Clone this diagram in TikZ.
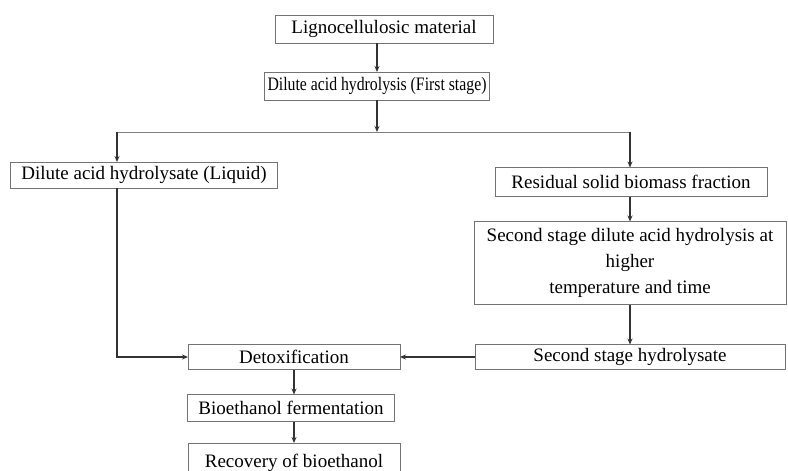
\documentclass[tikz,border=0pt]{standalone}
\usepackage{graphicx}
\usepackage{fontspec}
\setmainfont{Liberation Serif}
\usetikzlibrary{arrows.meta}

\begin{document}
\begin{tikzpicture}[
        x = 1pt, y = -1pt,
        outer sep = 0mm, inner sep = 0mm,
        box/.style = {
          rectangle, draw = black!55, line width = .8pt, align = center,
          font = \fontsize{19}{26}\selectfont,
        },
        flow/.style = {
          draw = black!80, line width = 1.3pt,
          -{Stealth[length = 6pt, width = 5pt]},
        },
        bar/.style = {draw = black!50, line width = .9pt}
      ]

      \clip (0,0) rectangle (788,471);

      \node[box, minimum width = 218, minimum height = 28] (lig) at (384,29) {Lignocellulosic material};
      \node[box, minimum width = 225, minimum height = 28]
        (dah) at (377,86) {\scalebox{0.83}[1]{Dilute acid hydrolysis (First stage)}};
      \node[box, minimum width = 267, minimum height = 26] (liq) at (144,175) {Dilute acid hydrolysate (Liquid)};
      \node[box, minimum width = 272, minimum height = 29] (res) at (631,182) {Residual solid biomass fraction};
      \node[box, minimum width = 312, minimum height = 83] (sec) at (630,263)
        {Second stage dilute acid hydrolysis at\\higher\\temperature and time};
      \node[box, minimum width = 310, minimum height = 25] (hyd) at (630,357) {Second stage hydrolysate};
      \node[box, minimum width = 212, minimum height = 25] (det) at (294,357) {Detoxification};
      \node[box, minimum width = 207, minimum height = 27] (bio) at (291,408) {Bioethanol fermentation};
      \node[box, minimum width = 212, minimum height = 40] (rec) at (294,463) {Recovery of bioethanol};

      % first stage
      \draw[flow] (dah.north |- lig.south) to (dah.north);
      \coordinate (split) at (dah.south |- 0,132);
      \coordinate (lj) at (117,132);
      \coordinate (rj) at (630,132);
      \draw[flow] (dah.south) to (split);
      \draw[bar] (lj) to (rj);
      \draw[flow] (lj) to (lj |- liq.north);
      \draw[flow] (rj) to (rj |- res.north);

      % solid fraction
      \draw[flow] (rj |- res.south) to (rj |- sec.north);
      \draw[flow] (rj |- sec.south) to (rj |- hyd.north);
      \draw[flow] (hyd.west) to (det.east);

      % liquid fraction
      \draw[flow] (lj |- liq.south) |- (det.west);

      \draw[flow] (det.south) to (det.south |- bio.north);
      \draw[flow] (det.south |- bio.south) to (det.south |- rec.north);
    \end{tikzpicture}
\end{document}
